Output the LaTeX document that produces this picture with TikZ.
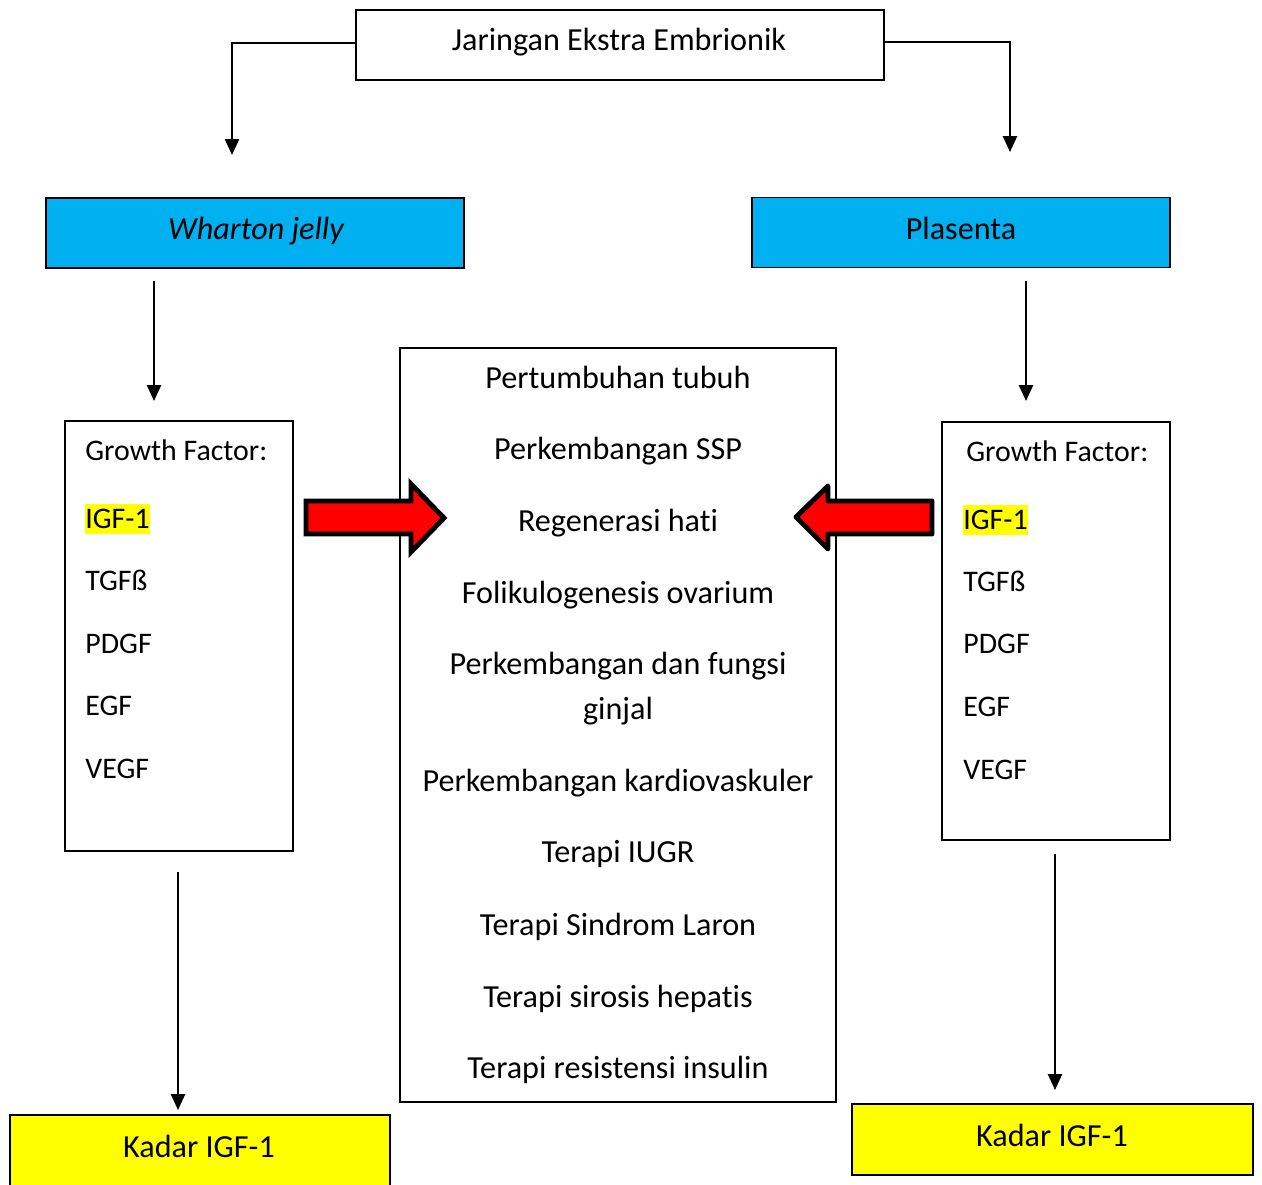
\documentclass[tikz,border=0pt]{standalone}
\usepackage{fontspec}
\setmainfont{Carlito}[Ligatures=NoCommon]
\usepackage{xcolor}
\usetikzlibrary{arrows.meta,positioning}

\definecolor{boxcyan}{HTML}{00B0F0}
\definecolor{boxyellow}{HTML}{FFFF00}
\definecolor{arrowred}{HTML}{FF0000}

\tikzset{
  txt/.style={font=\fontsize{18.3}{22}\selectfont,inner sep=0pt},
  gftxt/.style={font=\fontsize{17}{20}\selectfont,inner sep=0pt,anchor=base west},
  frame/.style={draw,line width=1.1pt,inner sep=0pt},
  headbox/.style={frame,fill=boxcyan,minimum width=8.36cm,minimum height=1.4cm},
  kadarbox/.style={frame,fill=boxyellow},
  conn/.style={line width=1.1pt,-{Triangle[width=8pt,length=9pt]}},
  bigarrow/.style={draw,fill=arrowred,line width=2.8pt},
}

\begin{document}
\begin{tikzpicture}[x=0.02cm,y=-0.02cm]
\useasboundingbox (0,0) rectangle (1262,1185);
%
% top box and the two sources
\node[frame,minimum width=10.56cm,minimum height=1.4cm] (jee) at (620,45) {};
\node[txt] at (619,42) {Jaringan Ekstra Embrionik};
\node[headbox] (wj) at (255,233) {};
\node[txt] at (256,231) {\itshape Wharton jelly};
\node[headbox] (pl) at (961,232.5) {};
\node[txt] at (961,228) {Plasenta};
\coordinate (wtop) at (232,155);
\coordinate (ptop) at (1010,152);
\draw[conn] ([yshift=0.04cm]jee.west) -| (wtop);
\draw[conn] ([yshift=0.06cm]jee.east) -| (ptop);
%
% growth factor boxes
\node[frame,line width=0.9pt,minimum width=4.56cm,minimum height=8.6cm] (gfl) at (179,636) {};
\node[frame,line width=0.9pt,minimum width=4.56cm,minimum height=8.36cm] (gfr) at (1056,631) {};
\coordinate (wout) at (154,281);
\coordinate (win) at (154,401);
\coordinate (pout) at (1026,281);
\coordinate (pin) at (1026,401);
\draw[conn] (wout) -- (win);
\draw[conn] (pout) -- (pin);
%
\node[gftxt] (gfl0) at (85,461) {Growth Factor:};
\node[gftxt,fill=boxyellow,inner ysep=3pt] (gfl1) at (85,529) {IGF-1};
\node[gftxt] (gfl2) at (85,591) {TGFß};
\node[gftxt] (gfl3) at (85,654) {PDGF};
\node[gftxt] (gfl4) at (85,716) {EGF};
\node[gftxt] (gfl5) at (85,779) {VEGF};
%
\node[gftxt] (gfr0) at (966,462) {Growth Factor:};
\node[gftxt,fill=boxyellow,inner ysep=3pt] (gfr1) at (963,530) {IGF-1};
\node[gftxt] (gfr2) at (963,592) {TGFß};
\node[gftxt] (gfr3) at (963,654) {PDGF};
\node[gftxt] (gfr4) at (963,717) {EGF};
\node[gftxt] (gfr5) at (963,780) {VEGF};
%
% center list
\node[frame,line width=0.9pt,minimum width=8.72cm,minimum height=15.08cm] (mid) at (618,725) {};
\foreach \t/\y [count=\i] in {Pertumbuhan tubuh/389, Perkembangan SSP/460, Regenerasi hati/532,
    Folikulogenesis ovarium/604, Perkembangan dan fungsi/675, ginjal/720,
    Perkembangan kardiovaskuler/792, Terapi IUGR/863, Terapi Sindrom Laron/935,
    Terapi sirosis hepatis/1007, Terapi resistensi insulin/1078}
  \node[txt,anchor=base] (m\i) at (618,\y) {\t};
%
% red arrows
\draw[bigarrow,line join=miter] (306,501) -- (411,501) -- (411,484) -- (444,518)
  -- (411,552) -- (411,534) -- (306,534) -- cycle;
\draw[bigarrow,line join=round] (932,501) -- (828,501) -- (828,486) -- (796,517)
  -- (828,549) -- (828,534) -- (932,534) -- cycle;
%
% kadar boxes
\node[kadarbox,minimum width=7.6cm,minimum height=1.6cm] (kl) at (200,1155) {};
\node[txt] at (199,1146) {Kadar IGF-1};
\node[kadarbox,minimum width=8.02cm,minimum height=1.42cm] (kr) at (1052.5,1139.5) {};
\node[txt] at (1052,1135) {Kadar IGF-1};
\coordinate (lout) at (178,872);
\coordinate (lin) at (178,1110);
\coordinate (rout) at (1055,854);
\coordinate (rin) at (1055,1090);
\draw[conn] (lout) -- (lin);
\draw[conn] (rout) -- (rin);
\end{tikzpicture}
\end{document}
